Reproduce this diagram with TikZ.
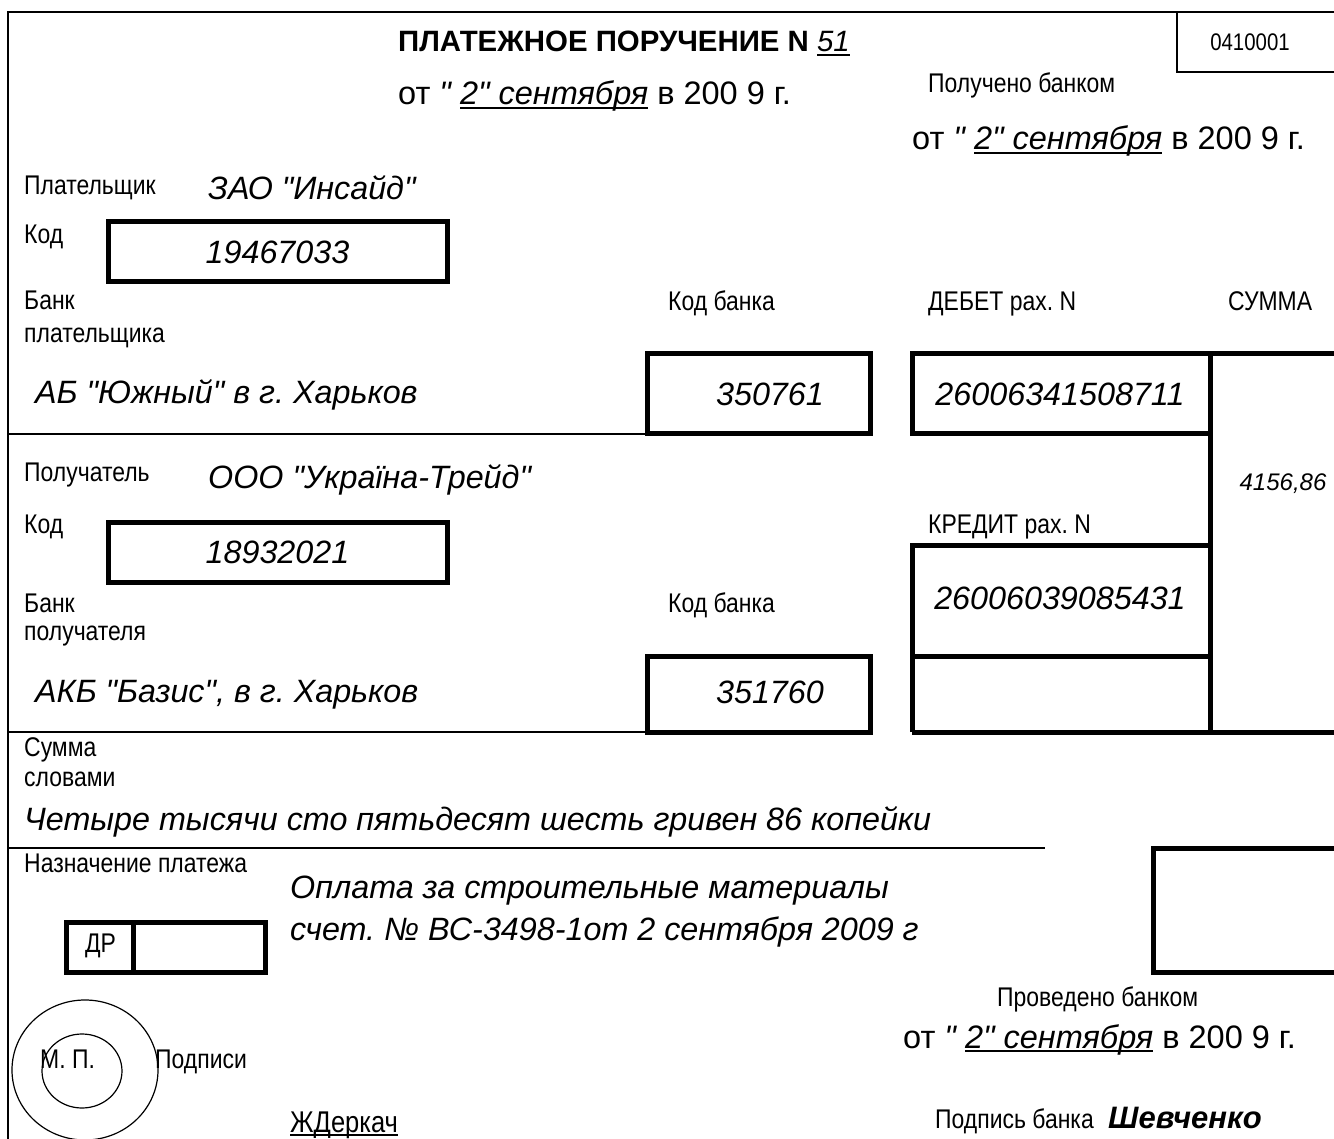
\documentclass[tikz,border=0pt]{standalone}
\usepackage{fontspec}
\setmainfont{Liberation Sans}[Ligatures=TeXOff]
\newfontfamily\narrowfont{Liberation Sans}[FakeStretch=0.85, Ligatures=TeXOff]
\usepackage{tikz}
\usetikzlibrary{positioning}
\frenchspacing
\newsavebox\ulbox
\newcommand\uln[1]{\sbox\ulbox{#1}\rlap{\rule[-0.13em]{\wd\ulbox}{2.2pt}}\usebox\ulbox}
\newcommand\lblfont{\narrowfont\fontsize{27}{30}\selectfont}
\newcommand\valfont{\fontsize{32.3}{35}\selectfont\itshape}
\newcommand\bigfont{\fontsize{32.5}{35}\selectfont}
\newcommand\titlefont{\fontsize{29.4}{32}\selectfont}
\newcommand\datum{от \textit{" \uln{2" сентября}} в 200 9 г.}
\tikzstyle{lbl} = [anchor=base west, inner sep=0pt, font=\lblfont]
\tikzstyle{val} = [anchor=base west, inner sep=0pt, font=\valfont]
\tikzstyle{fbox} = [draw, line width=5pt, inner sep=0pt, font=\valfont]
\tikzstyle{line} = [draw, line width=2.5pt]
\tikzstyle{bold line} = [draw, line width=5pt]
\begin{document}
\begin{tikzpicture}[x=1pt, y=-1pt]
\useasboundingbox (0,0) rectangle (1334,1139);
\path [line] (1334,12) -- (8,12) -- (8,1139);
\path [line] (1177,12) -- (1177,72) -- (1334,72);
\node [inner sep=0pt, font=\narrowfont\fontsize{24}{26}\selectfont] (formno) at (1250,42) {0410001};
\node [anchor=base, inner sep=0pt, font=\titlefont] (title) at (624,52) {\textbf{ПЛАТЕЖНОЕ ПОРУЧЕНИЕ N} \textit{\uln{51}}};
\node [lbl, font=\bigfont] (date1) at (398,105) {\datum};
\node [lbl] (rcvd) at (928,93) {Получено банком};
\node [lbl, font=\bigfont] (date2) at (912,150) {\datum};

\node [lbl] (payer) at (24,195) {Плательщик};
\node [val] (payername) at (208,200) {ЗАО "Инсайд"};
\node [lbl] (code1) at (24,244) {Код};
\node [fbox, minimum width=339pt, minimum height=60pt] (payercode) at (277.5,252) {19467033};
\node [lbl] (bank1) at (24,310) {Банк};
\node [lbl] (bank1b) at (24,343) {плательщика};
\node [lbl] (bankcode1) at (668,311) {Код банка};
\node [lbl] (debit) at (928,311) {ДЕБЕТ рах. N};
\node [lbl] (sum) at (1228,311) {СУММА};
\node [fbox, minimum width=223pt, minimum height=80pt] (mfo1) at (758.5,394) {};
\node [inner sep=0pt, font=\valfont] (mfo1no) at (770,394) {350761};
\node [val] (bankname1) at (35,404) {АБ "Южный" в г. Харьков};
\node [inner sep=0pt, font=\valfont] (debitno) at (1060,394) {26006341508711};
\path [line] (8,434) -- (647,434);
\path [bold line] (1334,354) -- (912,354) -- (912,434) -- (1210,434);
\path [bold line] (1210,354) -- (1210,732);

\node [lbl] (payee) at (24,482) {Получатель};
\node [val] (payeename) at (208,489) {ООО "Україна-Трейд"};
\node [inner sep=0pt, font=\fontsize{24}{27}\selectfont\itshape] (amount) at (1283,484) {4156,86};
\node [lbl] (code2) at (24,533) {Код};
\node [fbox, minimum width=339pt, minimum height=60pt] (payeecode) at (277.5,552) {18932021};
\node [lbl] (credit) at (928,533) {КРЕДИТ рах. N};
\path [bold line] (912,732) -- (912,545) -- (1210,545);
\path [bold line] (912,656) -- (1210,656);
\path [bold line] (912,732) -- (1334,732);
\node [inner sep=0pt, font=\valfont] (creditno) at (1060,598) {26006039085431};
\node [lbl] (bank2) at (24,612) {Банк};
\node [lbl] (bank2b) at (24,640) {получателя};
\node [lbl] (bankcode2) at (668,612) {Код банка};
\node [fbox, minimum width=223pt, minimum height=76pt] (mfo2) at (758.5,694) {};
\node [inner sep=0pt, font=\valfont] (mfo2no) at (770,692) {351760};
\node [val] (bankname2) at (35,702) {АКБ "Базис", в г. Харьков};
\path [line] (8,732) -- (647,732);

\node [lbl] (words) at (24,756) {Сумма};
\node [lbl] (words2) at (24,786) {словами};
\node [val] (sumwords) at (24,830) {Четыре тысячи сто пятьдесят шесть гривен 86 копейки};
\path [line] (8,848) -- (1045,848);

\node [lbl] (purpose) at (24,872) {Назначение платежа};
\node [val] (purp1) at (290,898) {Оплата за строительные материалы};
\node [val] (purp2) at (290,940) {счет. № ВС-3498-1от 2 сентября 2009 г};
\node [fbox, minimum width=199pt, minimum height=50pt] (dr) at (165.5,947) {};
\path [bold line] (133,922) -- (133,972);
\node [lbl] (drlbl) at (85,952) {ДР};
\path [bold line] (1334,848) -- (1153,848) -- (1153,972) -- (1334,972);

\node [lbl] (done) at (997,1006) {Проведено банком};
\node [lbl, font=\bigfont] (date3) at (903,1048) {\datum};
\draw [line width=1.2pt] (85,1070) ellipse [x radius=73pt, y radius=70pt];
\draw [line width=1.2pt] (82,1071) ellipse [x radius=40pt, y radius=37pt];
\node [lbl] (mp) at (40,1068) {М. П.};
\node [lbl] (sign) at (155,1068) {Подписи};
\node [lbl, font=\narrowfont\fontsize{30}{32}\selectfont] (signer) at (290,1132) {\uln{ЖДеркач}};
\node [lbl] (banksign) at (935,1128) {Подпись банка};
\node [lbl, font=\fontsize{31}{33}\selectfont\bfseries\itshape] (banksigner) at (1108,1128) {Шевченко};
\end{tikzpicture}
\end{document}
